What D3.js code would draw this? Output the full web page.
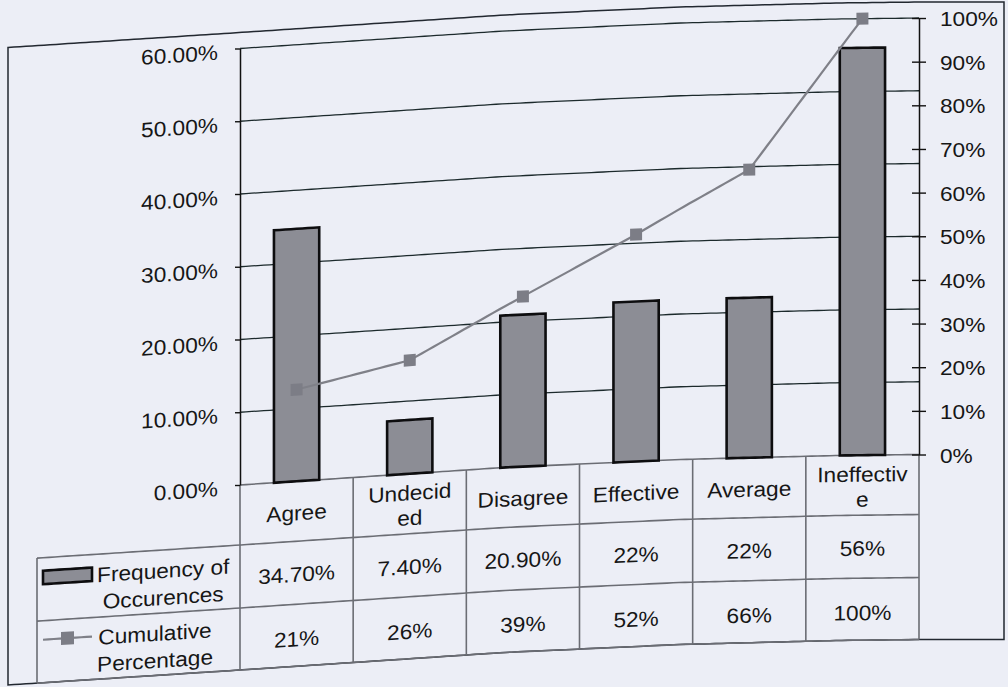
<!DOCTYPE html>
<html>
<head>
<meta charset="utf-8">
<title>Frequency of Occurences and Cumulative Percentage</title>
<script src="https://cdn.jsdelivr.net/npm/d3@7"></script>
<style>
  html, body { margin: 0; padding: 0; background: #eceef6; }
  svg { display: block; }
  text { font-family: "Liberation Sans", Arial, sans-serif; font-size: 21px; fill: #161616; }
</style>
</head>
<body>
<svg id="chart" width="1008" height="687"></svg>
<script>
// ---- data ----
const categories = ["Agree", "Undecided", "Disagree", "Effective", "Average", "Ineffective"];
const frequency = [34.7, 7.4, 20.9, 22, 22, 56];
const frequencyDecimals = [2, 2, 2, 0, 0, 0];
const cumulative = [21, 26, 39, 52, 66, 100];
const seriesNames = ["Frequency of Occurences", "Cumulative Percentage"];
const leftTicks = [0, 10, 20, 30, 40, 50, 60];
const rightTicks = [0, 10, 20, 30, 40, 50, 60, 70, 80, 90, 100];

// ---- layout in flat page coordinates ----
const frame = { left: 8, right: 1004, top: 32.5, bottom: 670 };
const plot = { left: 240, right: 919, top: 48.5, bottom: 485 };
const table = { left: 37, headBottom: 545, row1Bottom: 608, bottom: 670 };
const SX = 1.08; // horizontal stretch of the lettering

// the printed page is curled: vertical offset as a function of x
const bend = d3.scaleLinear()
  .domain([0, 240, 504, 680, 837, 920, 1008])
  .range([15.5, 0, -17.5, -25.5, -29.5, -30.5, -30.5])
  .clamp(true);
const tilt = x => Math.atan((bend(x + 2) - bend(x - 2)) / 4) * 180 / Math.PI;

const svg = d3.select("#chart");

// polyline through flat points, resampled so it follows the curl
function bentPath(points, closed) {
  const pts = closed ? points.concat([points[0]]) : points;
  const out = [pts[0]];
  for (let i = 1; i < pts.length; i++) {
    const [x0, y0] = pts[i - 1], [x1, y1] = pts[i];
    const n = Math.max(1, Math.ceil(Math.abs(x1 - x0) / 6));
    for (let k = 1; k <= n; k++) out.push([x0 + (x1 - x0) * k / n, y0 + (y1 - y0) * k / n]);
  }
  return d3.line()(out.map(([x, y]) => [x, y + bend(x)])) + (closed ? "Z" : "");
}

function textTransform(x, y) {
  return `translate(${x},${y + bend(x)}) skewY(${tilt(x)}) scale(${SX},1)`;
}
function label(parent, str, x, y, anchor) {
  return parent.append("text")
    .attr("text-anchor", anchor || "middle")
    .attr("transform", textTransform(x, y))
    .text(str);
}

// text measuring for Excel-like wrapping in table cells
const probe = svg.append("text").attr("visibility", "hidden");
const measure = s => { probe.text(s); return probe.node().getComputedTextLength() * SX; };
function charWrap(str, maxW) {
  const lines = []; let cur = "";
  for (const ch of str) {
    if (cur && measure(cur + ch) > maxW) { lines.push(cur); cur = ch; } else cur += ch;
  }
  lines.push(cur);
  return lines;
}
function wordWrap(str, maxW) {
  const lines = []; let cur = "";
  str.split(" ").forEach(w => {
    const t = cur ? cur + " " + w : w;
    if (cur && measure(t) > maxW) { lines.push(cur); cur = w; } else cur = t;
  });
  lines.push(cur);
  return lines;
}

// ---- scales ----
const x = d3.scaleBand().domain(categories).range([plot.left, plot.right])
  .paddingInner(0.6).paddingOuter(0.3);
const col = d3.scaleBand().domain(categories).range([plot.left, plot.right]);
const yLeft = d3.scaleLinear().domain([0, 60]).range([plot.bottom, plot.top]);
const yRight = d3.scaleLinear().domain([0, 100]).range([plot.bottom, plot.top]);

// ---- outer frame ----
svg.append("path")
  .attr("d", bentPath([[frame.left, frame.top], [frame.right, frame.top],
                       [frame.right, frame.bottom], [frame.left, frame.bottom]], true))
  .attr("fill", "none").attr("stroke", "#222830").attr("stroke-width", 1.5);

// ---- gridlines ----
svg.append("g").selectAll("path")
  .data(leftTicks.filter(d => d > 0))
  .join("path")
  .attr("d", d => bentPath([[plot.left, yLeft(d)], [plot.right, yLeft(d)]]))
  .attr("fill", "none").attr("stroke", "#1c2a2c").attr("stroke-width", 1.3);

// ---- data table grid ----
const grid = svg.append("g").attr("fill", "none").attr("stroke", "#6b6d74").attr("stroke-width", 1.6);
[plot.bottom].forEach(y => grid.append("path").attr("d", bentPath([[plot.left, y], [plot.right, y]])));
[table.headBottom, table.row1Bottom, table.bottom].forEach(y =>
  grid.append("path").attr("d", bentPath([[table.left, y], [plot.right, y]])));
grid.append("path").attr("d", bentPath([[table.left, table.headBottom], [table.left, table.bottom]]));
categories.concat([null]).forEach((c, i) => {
  const cx = c === null ? plot.right : col(c);
  grid.append("path").attr("d", bentPath([[cx, plot.bottom], [cx, table.bottom]]));
});

// ---- bars ----
svg.append("g").selectAll("path")
  .data(categories)
  .join("path")
  .attr("d", (c, i) => {
    const x0 = x(c), x1 = x(c) + x.bandwidth(), y0 = yLeft(0), y1 = yLeft(frequency[i]);
    return bentPath([[x0, y0], [x0, y1], [x1, y1], [x1, y0]], true);
  })
  .attr("fill", "#8c8d95").attr("stroke", "#0d0d0f").attr("stroke-width", 2.6)
  .attr("stroke-linejoin", "miter");

// ---- cumulative line ----
const linePts = categories.map((c, i) => [x(c) + x.bandwidth() / 2, yRight(cumulative[i])]);
svg.append("path")
  .attr("d", bentPath(linePts))
  .attr("fill", "none").attr("stroke", "#7f8088").attr("stroke-width", 2.2);
svg.append("g").selectAll("rect")
  .data(linePts)
  .join("rect")
  .attr("width", 12).attr("height", 12)
  .attr("transform", ([px, py]) => `translate(${px},${py + bend(px)}) skewY(${tilt(px)}) translate(-6,-6)`)
  .attr("fill", "#7c7d86");

// ---- left axis ----
const gLeft = svg.append("g")
  .attr("transform", `translate(${plot.left},${bend(plot.left)})`)
  .call(d3.axisLeft(yLeft).tickValues(leftTicks).tickSize(5).tickSizeOuter(0)
    .tickFormat(d => d.toFixed(2) + "%"));
gLeft.attr("font-family", null).attr("font-size", null);
gLeft.select(".domain").attr("stroke", "#111").attr("stroke-width", 1.5);
gLeft.selectAll(".tick line").attr("stroke", "#111").attr("stroke-width", 1.4);
gLeft.selectAll(".tick text")
  .attr("x", 0).attr("dy", "0.36em").attr("fill", null)
  .attr("transform", `translate(-22,${bend(190) - bend(plot.left)}) skewY(${tilt(190)}) scale(${SX},1)`);

// ---- right axis ----
const gRight = svg.append("g")
  .attr("transform", `translate(${plot.right},${bend(plot.right)})`)
  .call(d3.axisRight(yRight).tickValues(rightTicks).tickSize(7).tickSizeOuter(0)
    .tickFormat(d => d + "%"));
gRight.attr("font-family", null).attr("font-size", null);
gRight.select(".domain").attr("stroke", "#111").attr("stroke-width", 1.5);
gRight.selectAll(".tick line").attr("x1", -7).attr("x2", 7).attr("stroke", "#111").attr("stroke-width", 1.4);
gRight.selectAll(".tick text")
  .attr("x", 0).attr("dy", "0.36em").attr("fill", null)
  .attr("transform", `translate(21,${bend(965) - bend(plot.right)}) scale(${SX},1)`);

// ---- table text ----
const tt = svg.append("g");
const headCenter = (plot.bottom + table.headBottom) / 2;
const row1Center = (table.headBottom + table.row1Bottom) / 2;
const row2Center = (table.row1Bottom + table.bottom) / 2;

categories.forEach((c, i) => {
  const cx = col(c) + col.bandwidth() / 2;
  const lines = charWrap(c, 93.3);
  lines.forEach((ln, k) => label(tt, ln, cx, headCenter + 9 + (k - (lines.length - 1) / 2) * 25));
  label(tt, frequency[i].toFixed(frequencyDecimals[i]) + "%", cx, row1Center + 9);
  label(tt, cumulative[i] + "%", cx, row2Center + 11);
});

// series names with legend keys
const keyLeft = 43, keyRight = 92, nameLeft = 97;
[row1Center, row2Center].forEach((rc, s) => {
  const lines = wordWrap(seriesNames[s], 145);
  const blockW = d3.max(lines, measure);
  lines.forEach((ln, k) => label(tt, ln, nameLeft + blockW / 2, rc + 10 + (k - (lines.length - 1) / 2) * 27));
});
// bar key
svg.append("path")
  .attr("d", bentPath([[keyLeft, row1Center - 18.5], [keyRight, row1Center - 18.5],
                       [keyRight, row1Center - 5], [keyLeft, row1Center - 5]], true))
  .attr("fill", "#8c8d95").attr("stroke", "#0d0d0f").attr("stroke-width", 2.6);
// line key
const keyY = row2Center - 12;
svg.append("path")
  .attr("d", bentPath([[keyLeft, keyY], [keyRight, keyY]]))
  .attr("fill", "none").attr("stroke", "#7f8088").attr("stroke-width", 2.2);
svg.append("rect")
  .attr("width", 13).attr("height", 13)
  .attr("transform", `translate(${(keyLeft + keyRight) / 2},${keyY + bend((keyLeft + keyRight) / 2)}) skewY(${tilt(67)}) translate(-6.5,-6.5)`)
  .attr("fill", "#7c7d86");

probe.remove();
</script>
</body>
</html>
